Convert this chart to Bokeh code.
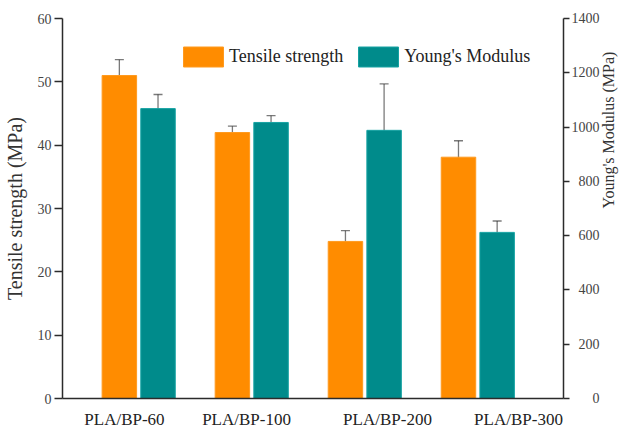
import math

from bokeh.plotting import figure
from bokeh.models import (Range1d, LinearAxis, FixedTicker, Whisker, TeeHead,
                          ColumnDataSource, Legend, LegendItem)
from bokeh.embed import file_html
from bokeh.resources import INLINE

# Sample groups and measured properties
samples = ["PLA/BP-60", "PLA/BP-100", "PLA/BP-200", "PLA/BP-300"]
tensile = [51.0, 42.0, 24.8, 38.1]          # MPa
tensile_err = [2.5, 1.0, 1.7, 2.6]
modulus = [1068, 1017, 988, 612]            # MPa
modulus_err = [52, 25, 171, 42]

tensile_ticks = [0, 10, 20, 30, 40, 50, 60]
modulus_ticks = [0, 200, 400, 600, 800, 1000, 1200, 1400]

# Where each sample name sits along the category axis
label_pos = [-0.126, 0.954, 2.201, 3.360]

ORANGE = "#FF8C00"
TEAL = "#008B8B"
FONT = "Liberation Serif"
AXIS_COLOR = "#2b2b2b"
FIGURE_SPACE = "\u2007"

idx = list(range(len(samples)))
offset = 0.171
bar_w = 0.305

ts = ColumnDataSource(dict(
    x=[i - offset for i in idx], top=tensile,
    lo=[v - e for v, e in zip(tensile, tensile_err)],
    hi=[v + e for v, e in zip(tensile, tensile_err)],
))
ms = ColumnDataSource(dict(
    x=[i + offset for i in idx], top=modulus,
    lo=[v - e for v, e in zip(modulus, modulus_err)],
    hi=[v + e for v, e in zip(modulus, modulus_err)],
))

p = figure(width=630, height=431, output_backend="svg", toolbar_location=None,
           x_range=Range1d(-0.674, 3.758), y_range=Range1d(0, 60),
           min_border_left=62, min_border_right=67,
           min_border_top=18, min_border_bottom=33)
p.extra_y_ranges = {"mod": Range1d(0, 1400)}
p.outline_line_color = None
p.xgrid.visible = False
p.ygrid.visible = False
p.background_fill_color = "white"
p.border_fill_color = "white"

r1 = p.vbar(x="x", top="top", width=bar_w, source=ts,
            fill_color=ORANGE, line_color="#FF9A1F", line_width=1)
r2 = p.vbar(x="x", top="top", width=bar_w, source=ms, y_range_name="mod",
            fill_color=TEAL, line_color="#16A3A3", line_width=1)

for src, rng in ((ts, "default"), (ms, "mod")):
    w = Whisker(base="x", lower="lo", upper="hi", source=src, y_range_name=rng,
                line_color="#222222", line_alpha=0.6, line_width=1.3,
                upper_head=TeeHead(size=9, line_color="#222222", line_alpha=0.6, line_width=1.3),
                lower_head=TeeHead(size=9, line_color="#222222", line_alpha=0.6, line_width=1.3))
    p.add_layout(w)

# Bottom axis
xa = p.xaxis[0]
xa.ticker = FixedTicker(ticks=label_pos)
xa.major_label_overrides = {pos: name for pos, name in zip(label_pos, samples)}
xa.major_tick_line_color = None
xa.minor_tick_line_color = None
xa.major_tick_out = 0
xa.major_tick_in = 0
xa.major_label_standoff = 11
xa.axis_line_color = AXIS_COLOR
xa.axis_line_width = 1.5
xa.major_label_text_font = FONT
xa.major_label_text_font_size = "17px"
xa.major_label_text_color = "#222222"

# Left axis
ya = p.yaxis[0]
ya.ticker = FixedTicker(ticks=tensile_ticks)
ya.axis_label = "Tensile strength (MPa)"
ya.axis_label_text_font = FONT
ya.axis_label_text_font_style = "normal"
ya.axis_label_text_font_size = "20px"
ya.axis_label_text_color = "#333333"
ya.axis_label_standoff = 9
ya.major_label_text_font = FONT
ya.major_label_text_font_size = "14px"
ya.major_label_text_color = "#444444"
ya.major_label_standoff = 3
ya.major_tick_out = 8
ya.major_tick_in = 0
ya.minor_tick_line_color = None
ya.axis_line_color = AXIS_COLOR
ya.axis_line_width = 1.5
ya.major_tick_line_color = AXIS_COLOR
ya.major_tick_line_width = 1.5

# Right axis for Young's modulus; labels padded with figure spaces so the
# numbers line up on their right edge
widest = max(len(str(t)) for t in modulus_ticks)
ra = LinearAxis(y_range_name="mod", ticker=FixedTicker(ticks=modulus_ticks))
ra.major_label_overrides = {t: FIGURE_SPACE * (widest - len(str(t))) + str(t)
                            for t in modulus_ticks}
ra.axis_label = "Young's Modulus (MPa)"
ra.axis_label_orientation = math.pi / 2
ra.axis_label_text_font = FONT
ra.axis_label_text_font_style = "normal"
ra.axis_label_text_font_size = "16px"
ra.axis_label_text_color = "#333333"
ra.axis_label_standoff = 6
ra.major_label_text_font = FONT
ra.major_label_text_font_size = "14px"
ra.major_label_text_color = "#444444"
ra.major_label_standoff = 2
ra.major_tick_out = 6
ra.major_tick_in = 0
ra.minor_tick_line_color = None
ra.axis_line_color = AXIS_COLOR
ra.axis_line_width = 1.5
ra.major_tick_line_color = AXIS_COLOR
ra.major_tick_line_width = 1.5
p.add_layout(ra, "right")

legend = Legend(items=[LegendItem(label="Tensile strength", renderers=[r1]),
                       LegendItem(label="Young's Modulus", renderers=[r2])],
                orientation="horizontal", location=(116, 329),
                glyph_width=50, glyph_height=25, label_standoff=1, spacing=10,
                padding=0, margin=0, border_line_color=None,
                background_fill_alpha=0,
                label_text_font=FONT, label_text_font_size="18px",
                label_text_color="#222222")
p.add_layout(legend)

open("out.html", "w").write(file_html(p, INLINE))
